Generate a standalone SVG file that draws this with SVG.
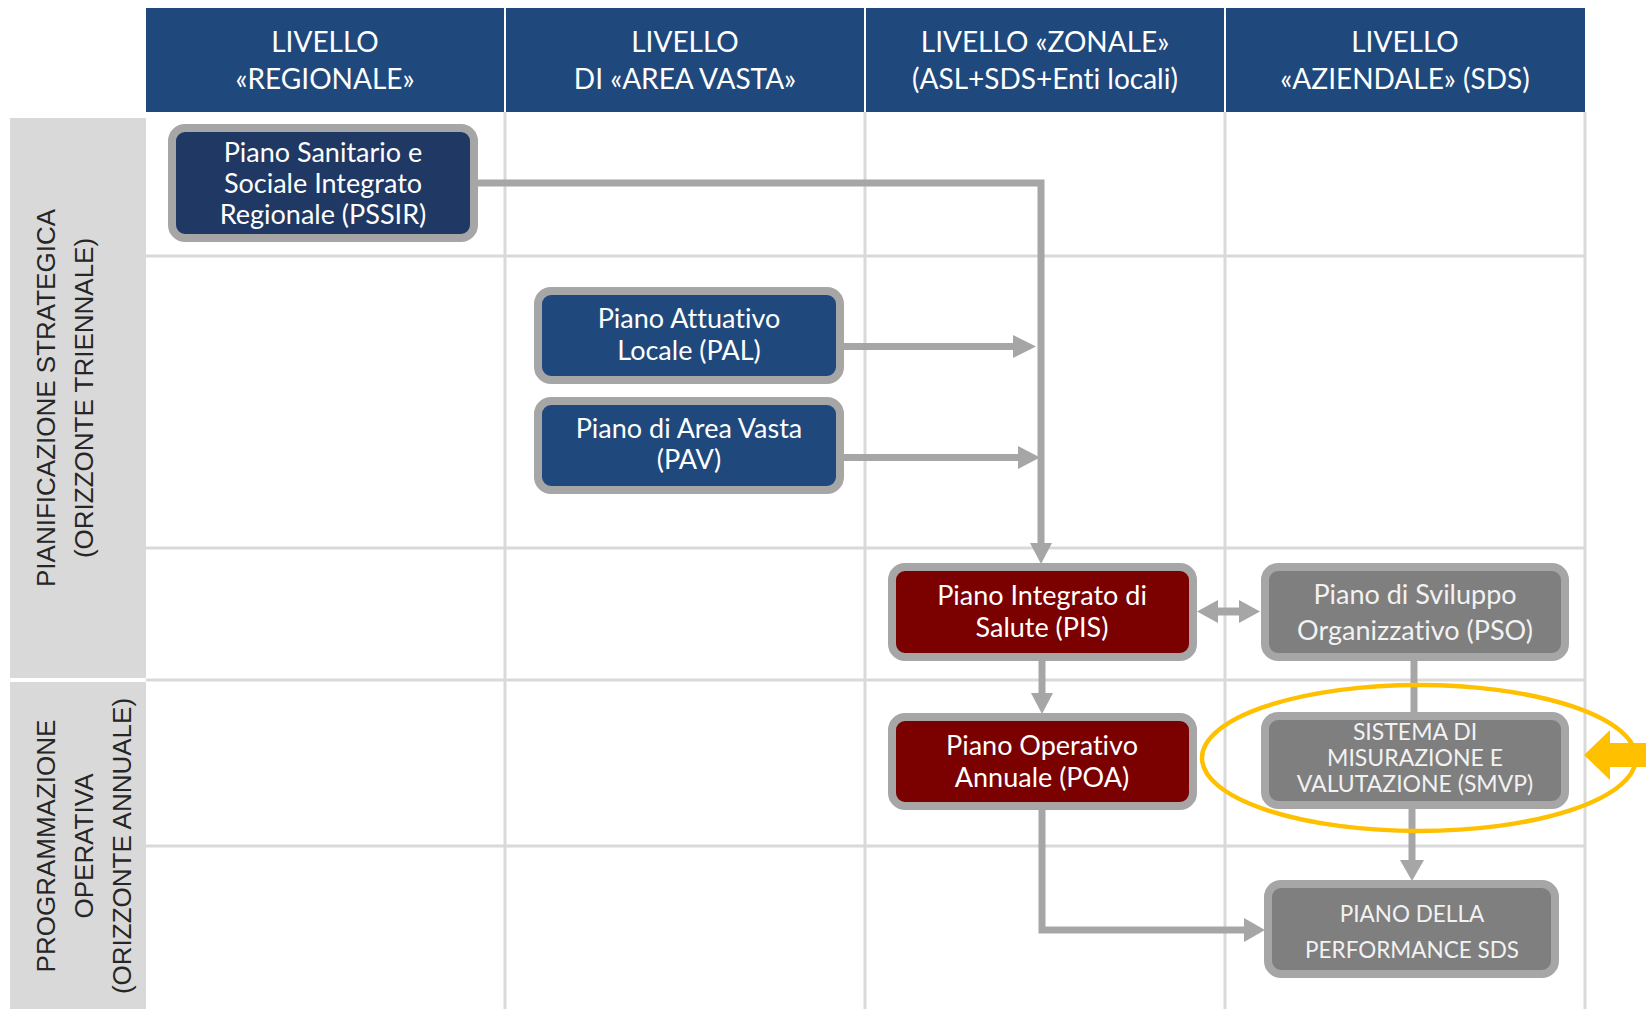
<svg xmlns="http://www.w3.org/2000/svg" width="1646" height="1009" viewBox="0 0 1646 1009">
<defs>
<style>
text{font-variant-ligatures:none;font-feature-settings:"liga" 0,"dlig" 0}
.hdr{fill:#1F497D}
.hdrt{font-family:Lato,"Liberation Sans",sans-serif;font-size:28px;fill:#FFFFFF;text-anchor:middle}
.band{fill:#D9D9D9}
.bandt{font-family:"Liberation Sans",Arial,sans-serif;font-size:26px;fill:#262626;text-anchor:middle}
.grid{stroke:#D9D9D9;stroke-width:3;fill:none}
.box{stroke:#A6A6A6;stroke-width:8}
.navy{fill:#203864}
.blue{fill:#1F497D}
.red{fill:#7B0000}
.gray{fill:#7F7F7F}
.nt{font-family:Lato,"Liberation Sans",sans-serif;font-size:27px;fill:#FFFFFF;text-anchor:middle}
.nts{font-family:Lato,"Liberation Sans",sans-serif;font-size:23px;fill:#F2F2F2;text-anchor:middle}
.ntg{font-family:Lato,"Liberation Sans",sans-serif;font-size:27px;fill:#F2F2F2;text-anchor:middle}
.ntp{font-family:Lato,"Liberation Sans",sans-serif;font-size:22.5px;fill:#F2F2F2;text-anchor:middle}
.conn{stroke:#A6A6A6;stroke-width:7;fill:none}
.head{fill:#A6A6A6}
</style>
</defs>
<rect width="1646" height="1009" fill="#FFFFFF"/>
<g id="header">
<rect class="hdr" x="146" y="8" width="358" height="104"/>
<rect class="hdr" x="506" y="8" width="358" height="104"/>
<rect class="hdr" x="866" y="8" width="358" height="104"/>
<rect class="hdr" x="1226" y="8" width="359" height="104"/>
<text class="hdrt" x="325" y="52">LIVELLO</text>
<text class="hdrt" x="325" y="89">«REGIONALE»</text>
<text class="hdrt" x="685" y="52">LIVELLO</text>
<text class="hdrt" x="685" y="89">DI «AREA VASTA»</text>
<text class="hdrt" x="1045" y="52">LIVELLO «ZONALE»</text>
<text class="hdrt" x="1045" y="89">(ASL+SDS+Enti locali)</text>
<text class="hdrt" x="1405" y="52">LIVELLO</text>
<text class="hdrt" x="1405" y="89">«AZIENDALE» (SDS)</text>
</g>
<g id="bands">
<rect class="band" x="10" y="118" width="136" height="560"/>
<rect class="band" x="10" y="682" width="136" height="327"/>
<text class="bandt" transform="translate(55,398) rotate(-90)">PIANIFICAZIONE STRATEGICA</text>
<text class="bandt" transform="translate(93,398) rotate(-90)">(ORIZZONTE TRIENNALE)</text>
<text class="bandt" transform="translate(55,846) rotate(-90)">PROGRAMMAZIONE</text>
<text class="bandt" transform="translate(93,846) rotate(-90)">OPERATIVA</text>
<text class="bandt" transform="translate(131,846) rotate(-90)">(ORIZZONTE ANNUALE)</text>
</g>
<g id="grid">
<path class="grid" d="M505 112V1009M865 112V1009M1225 112V1009M1585 112V1009"/>
<path class="grid" d="M146 256H1585M146 548H1585M146 680H1585M146 846H1585"/>
</g>
<g id="connectors">
<path class="conn" d="M478 183H1041V545"/>
<polygon class="head" points="1030,543 1052,543 1041,564"/>
<path class="conn" d="M844 346.5H1015"/>
<polygon class="head" points="1013,335 1013,358 1036,346.5"/>
<path class="conn" d="M844 457.5H1020"/>
<polygon class="head" points="1018,446 1018,469 1040,457.5"/>
<path class="conn" d="M1216 611.5H1241" style="stroke-width:8"/>
<polygon class="head" points="1197,611.5 1218,600 1218,623"/>
<polygon class="head" points="1260,611.5 1239,600 1239,623"/>
<path class="conn" d="M1042 661V695"/>
<polygon class="head" points="1031,693 1053,693 1042,714"/>
<path class="conn" d="M1414 661V713"/>
<path class="conn" d="M1412 809V862"/>
<polygon class="head" points="1400,860 1424,860 1412,881"/>
<path class="conn" d="M1042 810V930H1246"/>
<polygon class="head" points="1244,918 1244,942 1265,930"/>
</g>
<g id="node-pssir">
<rect class="box navy" x="172" y="128" width="302" height="110" rx="13"/>
<text class="nt" x="323" y="162">Piano Sanitario e</text>
<text class="nt" x="323" y="193">Sociale Integrato</text>
<text class="nt" x="323" y="224">Regionale (PSSIR)</text>
</g>
<g id="node-pal">
<rect class="box blue" x="538" y="291" width="302" height="89" rx="13"/>
<text class="nt" x="689" y="328">Piano Attuativo</text>
<text class="nt" x="689" y="360">Locale (PAL)</text>
</g>
<g id="node-pav">
<rect class="box blue" x="538" y="401" width="302" height="89" rx="13"/>
<text class="nt" x="689" y="438">Piano di Area Vasta</text>
<text class="nt" x="689" y="469">(PAV)</text>
</g>
<g id="node-pis">
<rect class="box red" x="892" y="567" width="301" height="90" rx="13"/>
<text class="nt" x="1042" y="605">Piano Integrato di</text>
<text class="nt" x="1042" y="637">Salute (PIS)</text>
</g>
<g id="node-poa">
<rect class="box red" x="892" y="717" width="301" height="89" rx="13"/>
<text class="nt" x="1042" y="755">Piano Operativo</text>
<text class="nt" x="1042" y="787">Annuale (POA)</text>
</g>
<g id="node-pso">
<rect class="box gray" x="1265" y="567" width="300" height="90" rx="13"/>
<text class="ntg" x="1415" y="604">Piano di Sviluppo</text>
<text class="ntg" x="1415" y="640">Organizzativo (PSO)</text>
</g>
<g id="node-smvp">
<rect class="box gray" x="1265" y="716" width="300" height="89" rx="13"/>
<text class="nts" x="1415" y="740">SISTEMA DI</text>
<text class="nts" x="1415" y="766">MISURAZIONE E</text>
<text class="nts" x="1415" y="792">VALUTAZIONE (SMVP)</text>
</g>
<g id="node-perf">
<rect class="box gray" x="1268" y="884" width="287" height="90" rx="13"/>
<text class="ntp" x="1412" y="922">PIANO DELLA</text>
<text class="ntp" x="1412" y="958">PERFORMANCE SDS</text>
</g>
<g id="highlight">
<ellipse cx="1419" cy="758" rx="217" ry="73" fill="none" stroke="#FFC000" stroke-width="4.5"/>
<polygon fill="#FFC000" points="1584,755 1610,730 1610,743 1650,743 1650,767 1610,767 1610,780"/>
</g>
</svg>
